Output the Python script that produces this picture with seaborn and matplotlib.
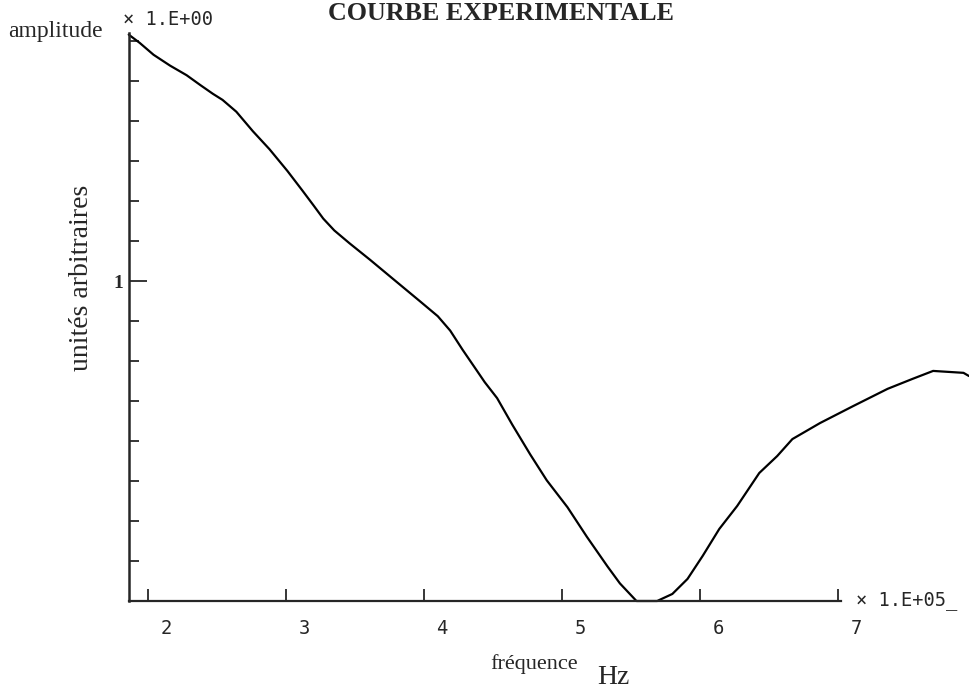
import numpy as np
import pandas as pd
import matplotlib
matplotlib.use("Agg")
import matplotlib.pyplot as plt
import matplotlib.transforms as mtransforms
import seaborn as sns

# Measured response: frequency (x 1e5 Hz) and amplitude (arbitrary units)
frequence = [1.86, 1.94, 2.04, 2.16, 2.28, 2.38, 2.47, 2.54, 2.64, 2.76,
             2.88, 3.01, 3.12, 3.20, 3.27, 3.35, 3.46, 3.61, 3.78, 3.97,
             4.10, 4.19, 4.28, 4.38, 4.44, 4.53, 4.64, 4.77, 4.89, 5.04,
             5.18, 5.33, 5.42, 5.54, 5.69, 5.80, 5.91, 6.02, 6.14, 6.27,
             6.43, 6.56, 6.67, 6.87, 7.11, 7.36, 7.54, 7.69, 7.91, 7.95]
amplitude = [1.770, 1.744, 1.707, 1.673, 1.643, 1.612, 1.585, 1.566, 1.529, 1.468,
             1.412, 1.344, 1.282, 1.236, 1.195, 1.158, 1.118, 1.066, 1.005, 0.937,
             0.890, 0.845, 0.785, 0.722, 0.684, 0.634, 0.551, 0.458, 0.377, 0.293,
             0.201, 0.108, 0.055, 0.000, 0.000, 0.022, 0.069, 0.141, 0.225, 0.297,
             0.400, 0.453, 0.506, 0.556, 0.609, 0.663, 0.694, 0.719, 0.713, 0.703]

x_ticks = [2, 3, 4, 5, 6, 7]
x_tick_labels = ["2", "3", "4", "5", "6", "7"]
y_major = [1.0]
y_major_labels = ["1"]
y_minor = [0.125 * k for k in range(1, 15)]

title = "COURBE EXPERIMENTALE"
x_scale_text = "\u00d7 1.E+05_"
y_scale_text = "\u00d7 1.E+00"

df = pd.DataFrame({"frequence": frequence, "amplitude": amplitude})

sns.set_style("ticks")
plt.rcParams["font.family"] = ["DejaVu Sans"]

W, H = 969, 696
fig = plt.figure(figsize=(W / 100, H / 100), dpi=100)
ax = fig.add_axes([128.7 / W, 1 - 601 / H, (W - 128.7) / W, (601 - 33) / H])

sns.lineplot(data=df, x="frequence", y="amplitude", ax=ax, color="black",
             linewidth=1.6, estimator=None, sort=False, clip_on=False)

ax.set_xlim(1.86, 7.95)
ax.set_ylim(0, 1.775)

for s in ("top", "right"):
    ax.spines[s].set_visible(False)
ax.spines["left"].set_linewidth(1.8)
ax.spines["bottom"].set_linewidth(1.6)
ax.spines["bottom"].set_bounds(1.86, 7.02)

mono = "DejaVu Sans Mono"
serif = "Liberation Serif"

# x axis ticks point up into the plot, labels sit below and to the right
ax.set_xticks(x_ticks)
ax.set_xticklabels(x_tick_labels, fontfamily=mono, fontsize=13.5)
ax.tick_params(axis="x", direction="in", length=9, width=1.3, pad=13)
shift = mtransforms.ScaledTranslation(18 / 100, 0, fig.dpi_scale_trans)
for lbl in ax.get_xticklabels():
    lbl.set_transform(lbl.get_transform() + shift)

# y axis: one labelled long tick at 1 and short minor ticks
ax.set_yticks(y_major)
ax.set_yticklabels(y_major_labels, fontfamily=serif, fontsize=14,
                   fontweight="bold")
ax.set_yticks(y_minor, minor=True)
ax.tick_params(axis="y", which="major", direction="in", length=13, width=1.3, pad=4)
ax.tick_params(axis="y", which="minor", direction="in", length=7, width=1.3)

ax.set_xlabel("")
ax.set_ylabel("unit\u00e9s arbitraires", fontfamily=serif, fontsize=20)
ax.yaxis.set_label_coords(-35 / (W - 128.7), (601 - 278) / (601 - 33))

# scale factors written next to the axes
ax.annotate(x_scale_text, xy=(7.13, 0), xycoords="data", fontfamily=mono,
            fontsize=13.5, ha="left", va="center", annotation_clip=False)
ax.annotate(y_scale_text, xy=(0, 1), xycoords="axes fraction",
            xytext=(-4, 10), textcoords="offset points", fontfamily=mono,
            fontsize=13.5, ha="left", va="center", annotation_clip=False)

fig.text(501 / W, 1 - 13 / H, title, fontfamily=serif, fontweight="bold",
         fontsize=18.7, ha="center", va="center")
fig.text(8 / W, 1 - 31 / H, "amplitude", fontfamily=serif, fontsize=17,
         ha="left", va="center")
fig.text(490 / W, 1 - 664 / H, "fr\u00e9quence", fontfamily=serif, fontsize=16,
         ha="left", va="center")
fig.text(597 / W, 1 - 677 / H, "Hz", fontfamily=serif, fontsize=20,
         ha="left", va="center")

fig.savefig("out.png", dpi=100, facecolor="white")
